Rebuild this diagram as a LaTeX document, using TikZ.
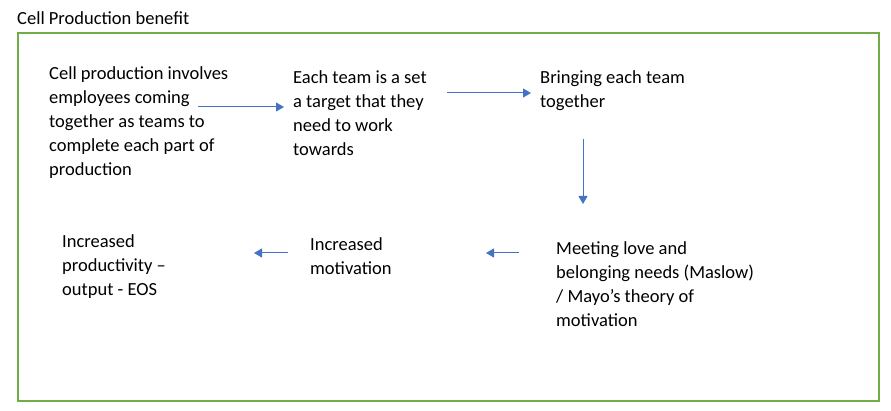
\documentclass[tikz,border=0pt]{standalone}
\usepackage{fontspec}
\setmainfont{Carlito}
\usetikzlibrary{arrows.meta}
\definecolor{framegreen}{HTML}{70AD47}
\definecolor{arrowblue}{HTML}{4472C4}
\begin{document}
\begin{tikzpicture}[x=1pt,y=-1pt,
  txt/.style={anchor=north west,inner sep=0pt,align=left,font=\fontsize{18.5}{24}\selectfont,text=black},
  flow/.style={draw=arrowblue,line width=1pt,-{Triangle[length=8pt,width=9pt]}}]
\useasboundingbox (0,0) rectangle (891,411);
\draw[framegreen,line width=2pt] (18,33) rectangle (879,401);
\node[txt] (title) at (17,11) {Cell Production benefit};
\node[txt] (b1) at (49,66) {Cell production involves\\employees coming\\together as teams to\\complete each part of\\production};
\node[txt] (b2) at (293,70) {Each team is a set\\a target that they\\need to work\\towards};
\node[txt] (b3) at (540,70) {Bringing each team\\together};
\node[txt] (b4) at (556,241) {Meeting love and\\belonging needs (Maslow)\\/ Mayo’s theory of\\motivation};
\node[txt] (b5) at (310,237) {Increased\\motivation};
\node[txt] (b6) at (62,234) {Increased\\productivity –\\output - EOS};
\coordinate (a1s) at (198,107); \coordinate (a1e) at (284,107);
\coordinate (a2s) at (447,93); \coordinate (a2e) at (531,93);
\coordinate (a3s) at (583,139); \coordinate (a3e) at (583,204);
\coordinate (a4s) at (519,253); \coordinate (a4e) at (486,253);
\coordinate (a5s) at (288,253); \coordinate (a5e) at (254,253);
\draw[flow] (a1s) -- (a1e);
\draw[flow] (a2s) -- (a2e);
\draw[flow] (a3s) -- (a3e);
\draw[flow] (a4s) -- (a4e);
\draw[flow] (a5s) -- (a5e);
\end{tikzpicture}
\end{document}
